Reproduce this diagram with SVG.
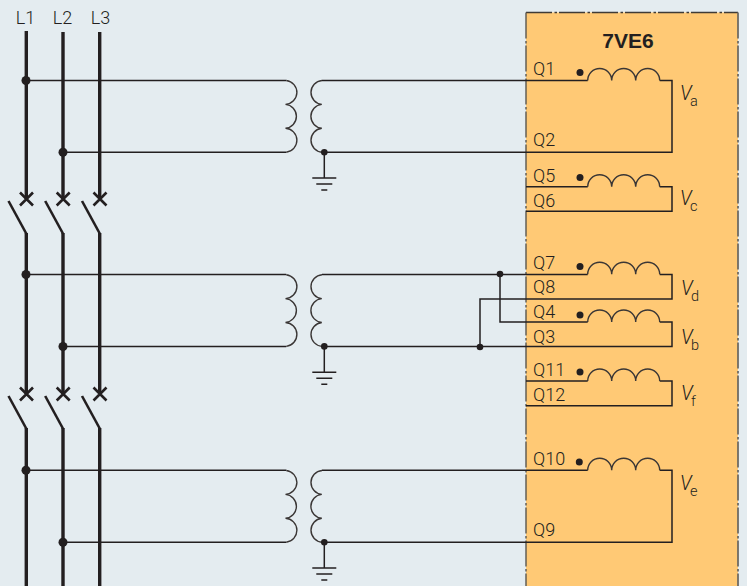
<svg xmlns="http://www.w3.org/2000/svg" width="747" height="586" viewBox="0 0 747 586">
<style>
text{font-family:Roboto,"Liberation Sans",Arial,sans-serif;font-weight:300;fill:#231f20}
.t{font-size:18px}
.v{font-size:19.500px;font-style:italic}
.s{font-size:14.500px}
.w{fill:none;stroke:#231f20;stroke-width:1.5}
.c{fill:none;stroke:#3a3635;stroke-width:1.4}
.b{fill:none;stroke:#231f20;stroke-width:3.400}
.x{fill:none;stroke:#231f20;stroke-width:2.600}
.d{fill:#231f20}
.e{fill:none;stroke-dasharray:26 2.500 2.500 2}
</style>
<defs>
<path id="sec-coil" class="c" d="M0 0A12 12 0 0 1 24 0A12 12 0 0 1 48 0A12 12 0 0 1 72 0"/>
<g id="ct">
<path class="c" d="M-38 0A12 12 0 0 1 -38.800 23.900A12 12 0 0 1 -38.800 47.800A12 12 0 0 1 -38 71.700"/>
<path class="c" d="M-2.300 71.700A12 12 0 0 1 -2.500 47.800A12 12 0 0 1 -2.500 23.900A12 12 0 0 1 -2.300 0"/>
<path class="w" d="M0 71.700V97.500"/>
<path class="w" d="M-12 97.500H12M-8 103.500H8M-3 109.500H3"/>
<circle class="d" cx="0" cy="71.700" r="3.300"/>
</g>
<g id="brk"><path class="x" d="M-6.500 -6.500L6.500 6.500M-6.500 6.500L6.500 -6.500"/><path class="x" d="M-18 2L0 35"/></g>
</defs>
<rect id="background" width="747" height="586" fill="#e4ecf0"/>
<g id="device-7VE6">
<rect x="526" y="12.500" width="212" height="580" fill="#ffc975"/>
<path class="e" d="M526 12.500H738" stroke="#3f3b36" stroke-width="1.400"/>
<path class="e" d="M526 12.500V586" stroke="#5a564e" stroke-width="1.400"/>
<path class="e" d="M738 12.500V586" stroke="#6f6c64" stroke-width="1.800"/>
<text x="628" y="47.500" text-anchor="middle" font-size="21" style="font-family:'Liberation Sans',Arial,sans-serif;font-weight:700">7VE6</text>
</g>
<g id="connectors">
<path class="b" d="M26.300 31V199M63 32V199M99.700 32V199"/>
<path class="b" d="M26.300 233V394M63 233V394M99.700 233V394"/>
<path class="b" d="M26.300 428V586M63 428V586M99.700 428V586"/>
<path class="w" d="M26 80.500H286.300M63 152.300H286.300"/>
<path class="w" d="M26 274.500H286.300M63 346.500H286.300"/>
<path class="w" d="M26 470.300H286.300M63 542.300H286.300"/>
<path class="w" d="M322 80.500H587.700M659.700 80.500H672V152.300H322"/>
<path class="w" d="M526 186.700H587.700M659.700 186.700H672V211.300H526"/>
<path class="w" d="M322 274.500H587.700M659.700 274.500H672V299H480V346.500"/>
<path class="w" d="M500 274.500V322H587.700M659.700 322H672V346.500H322"/>
<path class="w" d="M526 381H587.700M659.700 381H672V405.700H526"/>
<path class="w" d="M322 470.300H587.700M659.700 470.300H672V542.300H322"/>
<circle class="d" cx="500" cy="274" r="3.300"/>
<circle class="d" cx="480" cy="347" r="3.300"/>
<circle class="d" cx="26" cy="80.500" r="4.500"/><circle class="d" cx="63" cy="152.300" r="4.500"/>
<circle class="d" cx="26" cy="274.500" r="4.500"/><circle class="d" cx="63" cy="346.500" r="4.500"/>
<circle class="d" cx="26" cy="470.300" r="4.500"/><circle class="d" cx="63" cy="542.300" r="4.500"/>
</g>
<g id="phase-labels">
<text class="t" x="25.500" y="24" text-anchor="middle">L1</text>
<text class="t" x="62.500" y="24" text-anchor="middle">L2</text>
<text class="t" x="100.500" y="24" text-anchor="middle">L3</text>
</g>
<g id="breakers-1"><use href="#brk" x="26.500" y="199"/><use href="#brk" x="63.200" y="199"/><use href="#brk" x="100" y="199"/></g>
<g id="breakers-2"><use href="#brk" x="26.500" y="394"/><use href="#brk" x="63.200" y="394"/><use href="#brk" x="100" y="394"/></g>
<g id="vt-1"><use href="#ct" x="324.300" y="80.500"/></g>
<g id="vt-2"><use href="#ct" x="324.300" y="274.700"/></g>
<g id="vt-3"><use href="#ct" x="324.300" y="470.500"/></g>
<g id="input-a"><use href="#sec-coil" x="587.700" y="80.500"/><circle class="d" cx="580" cy="72.500" r="3.500"/>
<text class="t" x="533" y="75">Q1</text><text class="t" x="533" y="146">Q2</text>
<text class="v" x="680" y="100">V</text><text class="s" x="690" y="105.500">a</text></g>
<g id="input-c"><use href="#sec-coil" x="587.700" y="186.700"/><circle class="d" cx="580" cy="177.500" r="3.500"/>
<text class="t" x="533" y="182">Q5</text><text class="t" x="533" y="207">Q6</text>
<text class="v" x="680" y="205">V</text><text class="s" x="690" y="210.500">c</text></g>
<g id="input-d"><use href="#sec-coil" x="587.700" y="274.300"/><circle class="d" cx="580" cy="266.500" r="3.500"/>
<text class="t" x="533" y="269">Q7</text><text class="t" x="533" y="293">Q8</text>
<text class="v" x="681" y="295">V</text><text class="s" x="691" y="300.500">d</text></g>
<g id="input-b"><use href="#sec-coil" x="587.700" y="322"/><circle class="d" cx="580" cy="315" r="3.500"/>
<text class="t" x="533" y="318">Q4</text><text class="t" x="533" y="343">Q3</text>
<text class="v" x="681" y="344">V</text><text class="s" x="691" y="349.500">b</text></g>
<g id="input-f"><use href="#sec-coil" x="587.700" y="381"/><circle class="d" cx="580" cy="372" r="3.500"/>
<text class="t" x="533" y="376">Q11</text><text class="t" x="533" y="401">Q12</text>
<text class="v" x="681" y="400">V</text><text class="s" x="691" y="405.500">f</text></g>
<g id="input-e"><use href="#sec-coil" x="587.700" y="470.300"/><circle class="d" cx="579.300" cy="462" r="3.500"/>
<text class="t" x="533" y="465">Q10</text><text class="t" x="533" y="536">Q9</text>
<text class="v" x="680" y="490">V</text><text class="s" x="690" y="495.500">e</text></g>
</svg>
